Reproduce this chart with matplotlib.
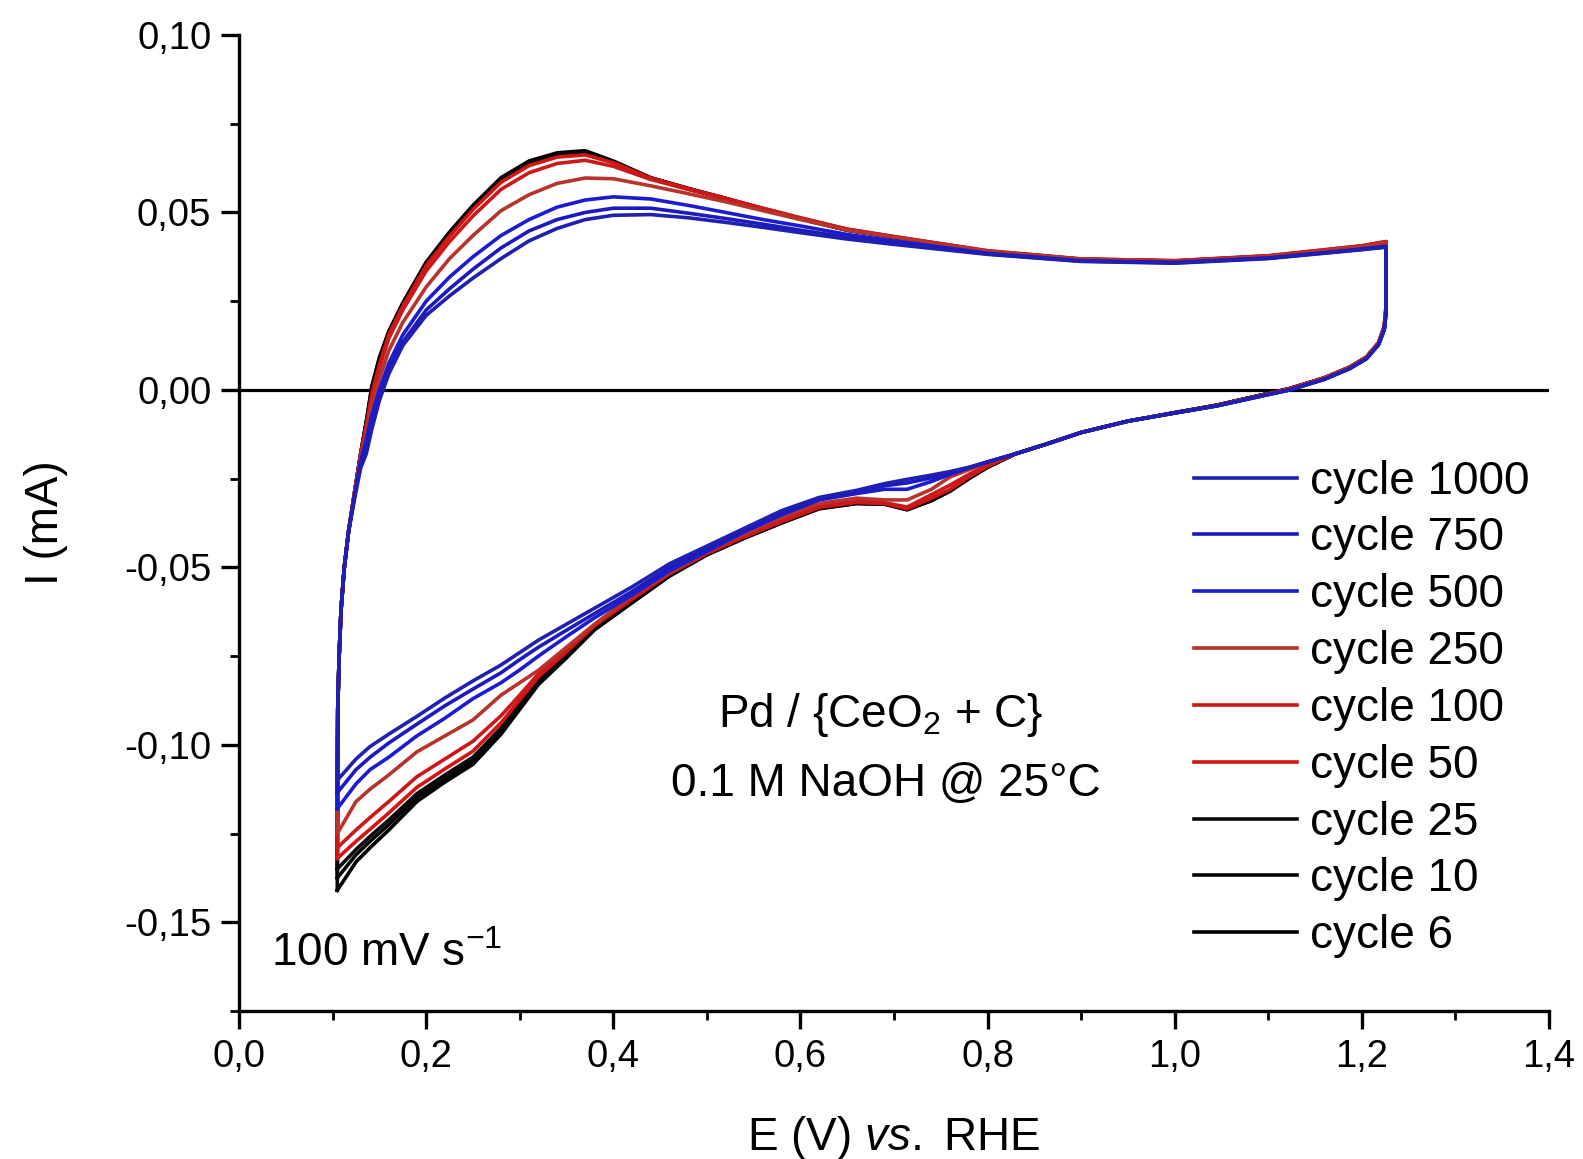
import matplotlib
matplotlib.use("Agg")
import matplotlib.pyplot as plt
from matplotlib.ticker import MultipleLocator, FuncFormatter

plt.rcParams['font.family'] = ['Liberation Sans', 'DejaVu Sans']
plt.rcParams['mathtext.fontset'] = 'custom'
plt.rcParams['mathtext.rm'] = 'Liberation Sans'
plt.rcParams['mathtext.it'] = 'Liberation Sans:italic'

# potential grids (V vs RHE)
anodic_E = [0.105, 0.1055, 0.107, 0.109, 0.1125, 0.117, 0.124, 0.130, 0.136, 0.142,
            0.150, 0.160, 0.175, 0.200, 0.225, 0.250, 0.280, 0.310, 0.340, 0.370,
            0.400, 0.440, 0.480, 0.520, 0.560, 0.600, 0.650, 0.700, 0.800, 0.900,
            1.000, 1.100, 1.200, 1.226]
cathodic_E = [1.226, 1.224, 1.218, 1.205, 1.187, 1.160, 1.123, 1.100, 1.045, 1.000,
              0.950, 0.900, 0.866, 0.830, 0.800, 0.780, 0.760, 0.740, 0.714, 0.690,
              0.660, 0.620, 0.580, 0.540, 0.500, 0.460, 0.420, 0.380, 0.350, 0.320,
              0.300, 0.280, 0.250, 0.220, 0.190, 0.160, 0.140, 0.125, 0.105]

cycles = ["cycle 6", "cycle 10", "cycle 25", "cycle 50", "cycle 100",
          "cycle 250", "cycle 500", "cycle 750", "cycle 1000"]
colors = ["#000000", "#050505", "#0a0a0a", "#d41414", "#cc1818",
          "#b8332b", "#1c1ccf", "#1a1ac0", "#2020b0"]

# current (mA), forward sweep
anodic_I = {
    "cycle 6": [-0.141, -0.090, -0.075, -0.062, -0.050, -0.040, -0.028, -0.018, -0.009, 0.001,
                0.009, 0.0165, 0.0245, 0.0360, 0.0445, 0.0520, 0.0598, 0.0645, 0.0668, 0.0674,
                0.0645, 0.0598, 0.0568, 0.0540, 0.0510, 0.0482, 0.0450, 0.0430, 0.0390, 0.0368,
                0.0363, 0.0376, 0.0402, 0.0412],
    "cycle 10": [-0.1375, -0.090, -0.075, -0.062, -0.050, -0.040, -0.028, -0.018, -0.009, 0.001,
                 0.009, 0.0163, 0.0243, 0.0357, 0.0442, 0.0517, 0.0595, 0.0642, 0.0665, 0.0671,
                 0.0643, 0.0597, 0.0567, 0.0539, 0.0510, 0.0482, 0.0450, 0.0430, 0.0390, 0.0368,
                 0.0363, 0.0376, 0.0402, 0.0412],
    "cycle 25": [-0.135, -0.090, -0.075, -0.062, -0.050, -0.040, -0.028, -0.018, -0.009, 0.000,
                 0.008, 0.0160, 0.0240, 0.0353, 0.0438, 0.0513, 0.0592, 0.0639, 0.0662, 0.0668,
                 0.0642, 0.0597, 0.0566, 0.0539, 0.0510, 0.0483, 0.0451, 0.0430, 0.0390, 0.0368,
                 0.0363, 0.0377, 0.0403, 0.0414],
    "cycle 50": [-0.132, -0.090, -0.075, -0.062, -0.050, -0.040, -0.028, -0.018, -0.010, -0.001,
                 0.007, 0.0155, 0.0235, 0.0350, 0.0433, 0.0508, 0.0585, 0.0632, 0.0656, 0.0662,
                 0.0640, 0.0597, 0.0567, 0.0540, 0.0512, 0.0485, 0.0453, 0.0432, 0.0392, 0.0369,
                 0.0364, 0.0378, 0.0406, 0.0418],
    "cycle 100": [-0.129, -0.090, -0.075, -0.062, -0.050, -0.040, -0.028, -0.019, -0.011, -0.002,
                  0.006, 0.0145, 0.0225, 0.0335, 0.0418, 0.0490, 0.0565, 0.0612, 0.0638, 0.0647,
                  0.0630, 0.0593, 0.0565, 0.0538, 0.0511, 0.0484, 0.0453, 0.0432, 0.0392, 0.0369,
                  0.0364, 0.0378, 0.0406, 0.0418],
    "cycle 250": [-0.125, -0.090, -0.075, -0.062, -0.050, -0.040, -0.028, -0.019, -0.012, -0.004,
                  0.003, 0.0110, 0.0190, 0.0290, 0.0370, 0.0435, 0.0505, 0.0550, 0.0582, 0.0597,
                  0.0595, 0.0575, 0.0553, 0.0530, 0.0505, 0.0480, 0.0450, 0.0430, 0.0390, 0.0368,
                  0.0362, 0.0376, 0.0404, 0.0415],
    "cycle 500": [-0.118, -0.090, -0.075, -0.062, -0.050, -0.040, -0.029, -0.020, -0.014, -0.007,
                  0.000, 0.0075, 0.0155, 0.0250, 0.0318, 0.0375, 0.0435, 0.0480, 0.0515, 0.0535,
                  0.0544, 0.0538, 0.0520, 0.0500, 0.0480, 0.0462, 0.0438, 0.0420, 0.0385, 0.0364,
                  0.0359, 0.0372, 0.0397, 0.0405],
    "cycle 750": [-0.1135, -0.090, -0.075, -0.062, -0.050, -0.040, -0.029, -0.021, -0.017, -0.010,
                  -0.002, 0.0055, 0.0135, 0.0225, 0.0285, 0.0340, 0.0400, 0.0448, 0.0480, 0.0500,
                  0.0512, 0.0512, 0.0498, 0.0483, 0.0467, 0.0450, 0.0430, 0.0413, 0.0383, 0.0363,
                  0.0358, 0.0371, 0.0396, 0.0403],
    "cycle 1000": [-0.110, -0.090, -0.075, -0.062, -0.050, -0.040, -0.030, -0.022, -0.018, -0.011,
                   -0.003, 0.0045, 0.0125, 0.0210, 0.0265, 0.0315, 0.0370, 0.0420, 0.0455, 0.0480,
                   0.0492, 0.0494, 0.0485, 0.0472, 0.0458, 0.0443, 0.0425, 0.0410, 0.0382, 0.0362,
                   0.0357, 0.0370, 0.0395, 0.0402],
}

# current (mA), reverse sweep
cathodic_I = {
    "cycle 6": [0.023, 0.0175, 0.0132, 0.0092, 0.0064, 0.0034, 0.0004, -0.0010, -0.0043, -0.0064,
                -0.0088, -0.0120, -0.0150, -0.0180, -0.0218, -0.0250, -0.0285, -0.0312, -0.0338, -0.0322,
                -0.0320, -0.0335, -0.0375, -0.0418, -0.0465, -0.0525, -0.0600, -0.0676, -0.0755, -0.0830,
                -0.0900, -0.0970, -0.1055, -0.1105, -0.1160, -0.1240, -0.1290, -0.1330, -0.1410],
    "cycle 10": [0.023, 0.0175, 0.0132, 0.0092, 0.0064, 0.0034, 0.0004, -0.0010, -0.0043, -0.0064,
                 -0.0088, -0.0120, -0.0150, -0.0180, -0.0218, -0.0250, -0.0285, -0.0312, -0.0337, -0.0322,
                 -0.0320, -0.0334, -0.0374, -0.0417, -0.0464, -0.0523, -0.0597, -0.0672, -0.0750, -0.0825,
                 -0.0893, -0.0962, -0.1045, -0.1095, -0.1148, -0.1225, -0.1272, -0.1310, -0.1375],
    "cycle 25": [0.023, 0.0175, 0.0132, 0.0092, 0.0064, 0.0034, 0.0004, -0.0010, -0.0043, -0.0064,
                 -0.0088, -0.0120, -0.0150, -0.0180, -0.0217, -0.0248, -0.0283, -0.0310, -0.0336, -0.0321,
                 -0.0319, -0.0333, -0.0373, -0.0416, -0.0463, -0.0521, -0.0594, -0.0668, -0.0745, -0.0818,
                 -0.0885, -0.0953, -0.1035, -0.1085, -0.1138, -0.1212, -0.1258, -0.1295, -0.1350],
    "cycle 50": [0.024, 0.0180, 0.0134, 0.0093, 0.0064, 0.0034, 0.0003, -0.0011, -0.0044, -0.0065,
                 -0.0088, -0.0120, -0.0150, -0.0180, -0.0215, -0.0245, -0.0280, -0.0305, -0.0335, -0.0320,
                 -0.0317, -0.0331, -0.0371, -0.0414, -0.0461, -0.0518, -0.0590, -0.0664, -0.0738, -0.0808,
                 -0.0873, -0.0938, -0.1018, -0.1068, -0.1120, -0.1192, -0.1238, -0.1272, -0.1320],
    "cycle 100": [0.024, 0.0180, 0.0134, 0.0093, 0.0064, 0.0034, 0.0003, -0.0011, -0.0044, -0.0065,
                  -0.0088, -0.0120, -0.0150, -0.0180, -0.0212, -0.0238, -0.0268, -0.0295, -0.0330, -0.0318,
                  -0.0314, -0.0328, -0.0367, -0.0411, -0.0459, -0.0517, -0.0586, -0.0662, -0.0732, -0.0800,
                  -0.0860, -0.0918, -0.0990, -0.1040, -0.1090, -0.1160, -0.1205, -0.1240, -0.1290],
    "cycle 250": [0.024, 0.0180, 0.0134, 0.0093, 0.0064, 0.0034, 0.0002, -0.0012, -0.0044, -0.0065,
                  -0.0088, -0.0120, -0.0150, -0.0180, -0.0205, -0.0225, -0.0245, -0.0280, -0.0310, -0.0310,
                  -0.0305, -0.0320, -0.0358, -0.0405, -0.0455, -0.0515, -0.0580, -0.0660, -0.0725, -0.0790,
                  -0.0825, -0.0860, -0.0930, -0.0975, -0.1020, -0.1085, -0.1125, -0.1160, -0.1250],
    "cycle 500": [0.022, 0.0170, 0.0128, 0.0088, 0.0060, 0.0030, 0.0000, -0.0013, -0.0045, -0.0065,
                  -0.0088, -0.0120, -0.0150, -0.0180, -0.0203, -0.0220, -0.0238, -0.0258, -0.0280, -0.0280,
                  -0.0292, -0.0310, -0.0352, -0.0400, -0.0455, -0.0510, -0.0578, -0.0642, -0.0695, -0.0750,
                  -0.0789, -0.0825, -0.0870, -0.0925, -0.0975, -0.1035, -0.1070, -0.1110, -0.1180],
    "cycle 750": [0.022, 0.0170, 0.0128, 0.0088, 0.0060, 0.0030, 0.0000, -0.0013, -0.0045, -0.0065,
                  -0.0088, -0.0120, -0.0150, -0.0180, -0.0203, -0.0219, -0.0233, -0.0248, -0.0262, -0.0270,
                  -0.0287, -0.0306, -0.0346, -0.0395, -0.0448, -0.0500, -0.0568, -0.0630, -0.0677, -0.0725,
                  -0.0760, -0.0797, -0.0843, -0.0890, -0.0942, -0.0995, -0.1035, -0.1070, -0.1135],
    "cycle 1000": [0.022, 0.0170, 0.0128, 0.0088, 0.0060, 0.0030, 0.0000, -0.0013, -0.0045, -0.0065,
                   -0.0088, -0.0120, -0.0150, -0.0180, -0.0203, -0.0218, -0.0230, -0.0240, -0.0252, -0.0264,
                   -0.0283, -0.0303, -0.0340, -0.0390, -0.0440, -0.0490, -0.0555, -0.0615, -0.0660, -0.0705,
                   -0.0740, -0.0775, -0.0820, -0.0868, -0.0920, -0.0970, -0.1005, -0.1040, -0.1100],
}

fig = plt.figure(figsize=(15.83, 11.59), dpi=100)
ax = fig.add_axes([0.151, 0.1277, 0.8275, 0.8421])

# zero line
ax.axhline(0, color='black', lw=2.3, zorder=1)

lines = {}
for name, col in zip(cycles, colors):
    E = anodic_E + cathodic_E
    I = anodic_I[name] + cathodic_I[name]
    ln, = ax.plot(E, I, color=col, lw=2.6, solid_joinstyle='round', zorder=2, label=name)
    lines[name] = ln

ax.set_xlim(0, 1.4)
ax.set_ylim(-0.175, 0.10)

for s in ['top', 'right']:
    ax.spines[s].set_visible(False)
for s in ['left', 'bottom']:
    ax.spines[s].set_linewidth(2.4)

ax.xaxis.set_major_locator(MultipleLocator(0.2))
ax.xaxis.set_minor_locator(MultipleLocator(0.1))
ax.yaxis.set_major_locator(MultipleLocator(0.05))
ax.yaxis.set_minor_locator(MultipleLocator(0.025))
ax.xaxis.set_major_formatter(FuncFormatter(lambda v, p: f"{v:.1f}".replace('.', ',')))
ax.yaxis.set_major_formatter(FuncFormatter(lambda v, p: f"{v:.2f}".replace('.', ',').replace('-0,00', '0,00')))
ax.tick_params(which='major', direction='out', length=13, width=2.4, labelsize=27.5, pad=7)
ax.tick_params(which='minor', direction='out', length=6.5, width=2.0)

ax.set_xlabel(r"E (V) $\it{vs.}$ RHE", fontsize=33, labelpad=28)
ax.set_ylabel("I (mA)", fontsize=33, labelpad=40)

ax.text(0.686, -0.0915, r"Pd / {CeO$_2$ + C}", fontsize=33, ha='center', va='center')
ax.text(0.691, -0.111, "0.1 M NaOH @ 25°C", fontsize=33, ha='center', va='center')
ax.text(0.034, -0.159, r"100 mV s$^{-1}$", fontsize=33, ha='left', va='center')

order = cycles[::-1]
ax.legend([lines[n] for n in order], order, loc='upper left',
          bbox_to_anchor=(0.754, 0.6035), bbox_transform=fig.transFigure,
          frameon=False, fontsize=33, handlelength=2.25, handletextpad=0.3,
          labelspacing=0.28, borderpad=0, borderaxespad=0)

fig.savefig("out.png", dpi=100)
